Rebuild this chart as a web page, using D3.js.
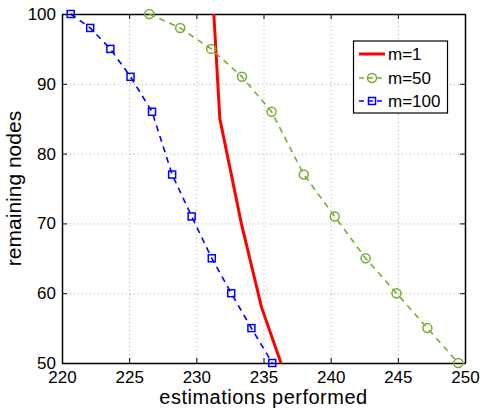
<!DOCTYPE html>
<html>
<head>
<meta charset="utf-8">
<script src="https://cdn.jsdelivr.net/npm/d3@7"></script>
<style>
  html, body { margin: 0; padding: 0; background: #fff; }
  svg { display: block; font-family: "Liberation Sans", Arial, Helvetica, sans-serif; }
</style>
</head>
<body>
<svg id="chart" width="480" height="410"></svg>
<script>
// Remaining nodes versus number of estimations, for three values of m
const remainingNodes = [100, 98, 95, 91, 86, 77, 71, 65, 60, 55, 50];
const estM50  = [226.5, 228.8, 231.1, 233.4, 235.6, 238.0, 240.3, 242.6, 244.9, 247.2, 249.5];
const estM100 = [220.65, 222.1, 223.6, 225.1, 226.7, 228.2, 229.65, 231.15, 232.6, 234.1, 235.65];
const nodesM1 = [100, 85, 70, 58, 50];
const estM1   = [231.3, 231.75, 233.35, 234.85, 236.3];

const xTicks = [220, 225, 230, 235, 240, 245, 250];
const yTicks = [50, 60, 70, 80, 90, 100];
const seriesNames = ["m=1", "m=50", "m=100"];

const svg = d3.select("#chart");
const plotL = 62, plotR = 465, plotT = 14, plotB = 363;

const x = d3.scaleLinear().domain([220, 250]).range([plotL, plotR]);
const y = d3.scaleLinear().domain([50, 100]).range([plotB, plotT]);

const series = [
  { name: seriesNames[0], xs: estM1,   ys: nodesM1,        color: "#ff0000", width: 3,   dash: null,  marker: null },
  { name: seriesNames[1], xs: estM50,  ys: remainingNodes, color: "#77ac30", width: 1.6, dash: "6,5", marker: "circle" },
  { name: seriesNames[2], xs: estM100, ys: remainingNodes, color: "#0000ff", width: 1.6, dash: "6,5", marker: "square" }
];

// dotted grid
const grid = svg.append("g").attr("stroke", "#b0b0b0").attr("stroke-width", 1).attr("stroke-dasharray", "1,3");
grid.selectAll("line.gx").data(xTicks.slice(1, -1)).join("line")
  .attr("x1", d => x(d) + 0.5).attr("x2", d => x(d) + 0.5).attr("y1", plotT).attr("y2", plotB);
grid.selectAll("line.gy").data(yTicks.slice(1, -1)).join("line")
  .attr("y1", d => y(d) + 0.5).attr("y2", d => y(d) + 0.5).attr("x1", plotL).attr("x2", plotR);

// axes with inward ticks
const tickLen = 5;
const xAxis = d3.axisBottom(x).tickValues(xTicks).tickSizeInner(-tickLen).tickSizeOuter(0).tickPadding(8);
const yAxis = d3.axisLeft(y).tickValues(yTicks).tickSizeInner(-tickLen).tickSizeOuter(0).tickPadding(6);
const xTop = d3.axisTop(x).tickValues(xTicks).tickSizeInner(-tickLen).tickSizeOuter(0).tickFormat("");
const yRight = d3.axisRight(y).tickValues(yTicks).tickSizeInner(-tickLen).tickSizeOuter(0).tickFormat("");

function styleAxis(g) {
  g.attr("font-family", null);
  g.select(".domain").attr("stroke", "#000").attr("stroke-width", 1.5);
  g.selectAll(".tick line").attr("stroke", "#000").attr("stroke-width", 1);
  g.selectAll(".tick text").attr("fill", "#000").attr("font-size", 17);
}

svg.append("g").attr("transform", `translate(0,${plotB})`).call(xAxis).call(styleAxis);
svg.append("g").attr("transform", `translate(${plotL},0)`).call(yAxis).call(styleAxis);
svg.append("g").attr("transform", `translate(0,${plotT})`).call(xTop).call(styleAxis);
svg.append("g").attr("transform", `translate(${plotR},0)`).call(yRight).call(styleAxis);

// series lines and markers
series.forEach(s => {
  const pts = s.xs.map((v, i) => [v, s.ys[i]]);
  svg.append("path").datum(pts)
    .attr("fill", "none").attr("stroke", s.color).attr("stroke-width", s.width)
    .attr("stroke-dasharray", s.dash)
    .attr("d", d3.line().x(d => x(d[0])).y(d => y(d[1])));
  if (s.marker === "circle") {
    svg.append("g").selectAll("circle").data(pts).join("circle")
      .attr("cx", d => x(d[0])).attr("cy", d => y(d[1])).attr("r", 4.5)
      .attr("fill", "none").attr("stroke", s.color).attr("stroke-width", 1.5);
  } else if (s.marker === "square") {
    svg.append("g").selectAll("rect").data(pts).join("rect")
      .attr("x", d => x(d[0]) - 3.5).attr("y", d => y(d[1]) - 3.5)
      .attr("width", 7).attr("height", 7)
      .attr("fill", "none").attr("stroke", s.color).attr("stroke-width", 1.5);
  }
});

// axis titles
svg.append("text").attr("x", (plotL + plotR) / 2).attr("y", 404)
  .attr("text-anchor", "middle").attr("font-size", 20).attr("letter-spacing", 0.5).attr("fill", "#000")
  .text("estimations performed");
svg.append("text").attr("transform", `translate(21,${(plotT + plotB) / 2}) rotate(-90)`)
  .attr("text-anchor", "middle").attr("font-size", 21).attr("fill", "#000")
  .text("remaining nodes");

// legend
const lg = svg.append("g");
lg.append("rect").attr("x", 353.5).attr("y", 41).attr("width", 94).attr("height", 72)
  .attr("fill", "#fff").attr("stroke", "#000").attr("stroke-width", 1.2);
const rowY = [54, 78, 101];
series.forEach((s, i) => {
  const yy = rowY[i];
  lg.append("line").attr("x1", 359).attr("x2", 385).attr("y1", yy).attr("y2", yy)
    .attr("stroke", s.color).attr("stroke-width", s.width)
    .attr("stroke-dasharray", s.dash ? "5,4" : null);
  if (s.marker === "circle") {
    lg.append("circle").attr("cx", 372).attr("cy", yy).attr("r", 4.5)
      .attr("fill", "none").attr("stroke", s.color).attr("stroke-width", 1.5);
  } else if (s.marker === "square") {
    lg.append("rect").attr("x", 368.5).attr("y", yy - 3.5).attr("width", 7).attr("height", 7)
      .attr("fill", "none").attr("stroke", s.color).attr("stroke-width", 1.5);
  }
  lg.append("text").attr("x", 388).attr("y", yy + 6).attr("font-size", 17).attr("fill", "#000")
    .text(s.name);
});
</script>
</body>
</html>
